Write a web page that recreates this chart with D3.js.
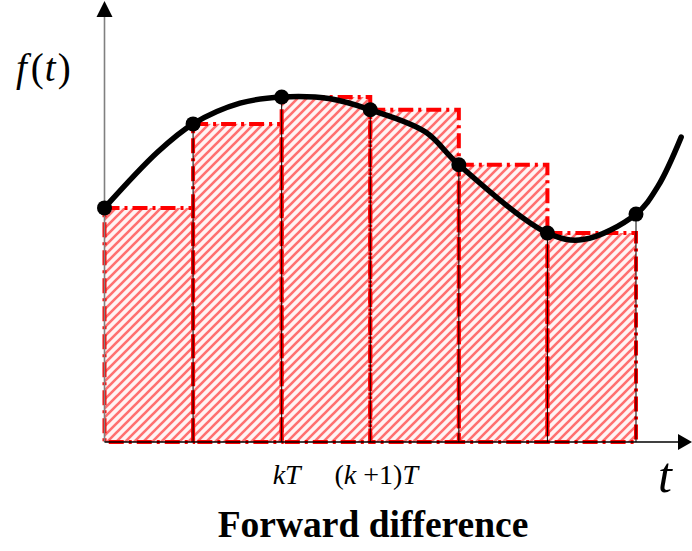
<!DOCTYPE html>
<html>
<head>
<meta charset="utf-8">
<script src="https://cdn.jsdelivr.net/npm/d3@7"></script>
<style>
  html, body { margin: 0; padding: 0; background: #fff; }
  svg { display: block; }
</style>
</head>
<body>
<svg id="chart" width="692" height="551"></svg>
<script>
// Sample instants (in units of T) and the sampled values f(kT)
const sampleT = [0, 1, 2, 3, 4, 5, 6];
const sampleF = [5.32, 7.23, 7.84, 7.55, 6.30, 4.75, 5.18];

// Points along the continuous signal f(t)
const curveT = [0, 0.60, 1, 1.53, 2, 2.55, 3, 3.62, 4, 5, 5.40, 6, 6.25, 6.51];
const curveF = [5.32, 6.59, 7.23, 7.70, 7.84, 7.80, 7.55, 7.05, 6.30, 4.75, 4.60, 5.18, 5.82, 6.93];

// Axis and tick labels
const tickLabels = [
  { t: 2, parts: [["k", true], ["T", true]] },
  { t: 3, parts: [["(", false], ["k", true], [" +1)", false], ["T", true]] }
];
const yLabel = "f(t)";
const xLabel = "t";
const title = "Forward difference";

const svg = d3.select("#chart");
const x = d3.scaleLinear().domain([0, 6]).range([104.5, 636]);
const y = d3.scaleLinear().domain([0, 10]).range([442, 2]);

// Diagonal hatch for the rectangle areas
const defs = svg.append("defs");
const pat = defs.append("pattern")
  .attr("id", "hatch")
  .attr("patternUnits", "userSpaceOnUse")
  .attr("width", 9).attr("height", 9);
pat.append("rect").attr("width", 9).attr("height", 9).attr("fill", "#fff4f4");
pat.append("path")
  .attr("d", "M-2,11 L11,-2 M-2,2 L2,-2 M7,11 L11,7")
  .attr("stroke", "#ff7070").attr("stroke-width", 2.6);

// Forward-difference rectangles: height taken from the left sample
const rects = sampleT.slice(0, -1).map((t, i) => ({ t0: t, t1: sampleT[i + 1], f: sampleF[i] }));

svg.append("g").selectAll("rect").data(rects).join("rect")
  .attr("x", d => x(d.t0)).attr("y", d => y(d.f))
  .attr("width", d => x(d.t1) - x(d.t0))
  .attr("height", d => y(0) - y(d.f))
  .attr("fill", "url(#hatch)");

svg.append("g").selectAll("rect").data(rects).join("rect")
  .attr("x", d => x(d.t0)).attr("y", d => y(d.f))
  .attr("width", d => x(d.t1) - x(d.t0))
  .attr("height", d => y(0) - y(d.f))
  .attr("fill", "none")
  .attr("stroke", "#ff0000")
  .attr("stroke-width", 4)
  .attr("stroke-dasharray", "15,5,3,5");

// Thin stems at each sample instant
svg.append("g").selectAll("line").data(sampleT.slice(1)).join("line")
  .attr("x1", d => x(d)).attr("x2", d => x(d))
  .attr("y1", (d, i) => y(sampleF[i + 1])).attr("y2", y(0))
  .attr("stroke", "#000").attr("stroke-width", 1);

// Axes with arrowheads
svg.append("line")
  .attr("x1", x(0)).attr("x2", x(0)).attr("y1", y(0)).attr("y2", 14)
  .attr("stroke", "#808080").attr("stroke-width", 1.6);
svg.append("path").attr("d", `M${x(0)},1 L${x(0) - 8},17 L${x(0) + 8},17 Z`).attr("fill", "#000");

svg.append("line")
  .attr("x1", x(0)).attr("x2", 682).attr("y1", y(0)).attr("y2", y(0))
  .attr("stroke", "#000").attr("stroke-width", 1.6);
svg.append("path").attr("d", `M692,${y(0)} L678,${y(0) - 8} L678,${y(0) + 8} Z`).attr("fill", "#000");

// Continuous signal
const line = d3.line()
  .x(d => x(d[0])).y(d => y(d[1]))
  .curve(d3.curveCatmullRom.alpha(0.5));
svg.append("path")
  .datum(curveT.map((t, i) => [t, curveF[i]]))
  .attr("d", line)
  .attr("fill", "none")
  .attr("stroke", "#000")
  .attr("stroke-width", 5.5)
  .attr("stroke-linecap", "round")
  .attr("stroke-linejoin", "round");

// Sample points
svg.append("g").selectAll("circle").data(sampleT).join("circle")
  .attr("cx", d => x(d)).attr("cy", (d, i) => y(sampleF[i]))
  .attr("r", 7.5).attr("fill", "#000");

// Tick labels under the axis
const serif = "'Liberation Serif', 'Times New Roman', serif";
const tl = svg.append("g").selectAll("text").data(tickLabels).join("text")
  .attr("x", d => x(d.t) + (d.t === 2 ? 5 : 6))
  .attr("y", 484)
  .attr("text-anchor", "middle")
  .attr("font-family", serif)
  .attr("font-size", 28)
  .attr("fill", "#000");
tl.selectAll("tspan").data(d => d.parts).join("tspan")
  .attr("font-style", d => d[1] ? "italic" : "normal")
  .attr("xml:space", "preserve")
  .text(d => d[0]);

// Axis names
const fl = svg.append("text")
  .attr("x", 16).attr("y", 81)
  .attr("font-family", serif).attr("font-size", 39).attr("fill", "#000");
fl.append("tspan").attr("font-style", "italic").text(yLabel[0]);
fl.append("tspan").attr("dx", 4).text(yLabel[1]);
fl.append("tspan").attr("font-style", "italic").attr("dx", 1).text(yLabel[2]);
fl.append("tspan").attr("dx", 2).text(yLabel[3]);

svg.append("text")
  .attr("x", 665).attr("y", 492)
  .attr("text-anchor", "middle")
  .attr("font-family", serif).attr("font-style", "italic")
  .attr("font-size", 50).attr("fill", "#000")
  .text(xLabel);

svg.append("text")
  .attr("x", 373).attr("y", 537)
  .attr("text-anchor", "middle")
  .attr("font-family", serif).attr("font-weight", "bold")
  .attr("font-size", 37.5).attr("fill", "#000")
  .text(title);
</script>
</body>
</html>
